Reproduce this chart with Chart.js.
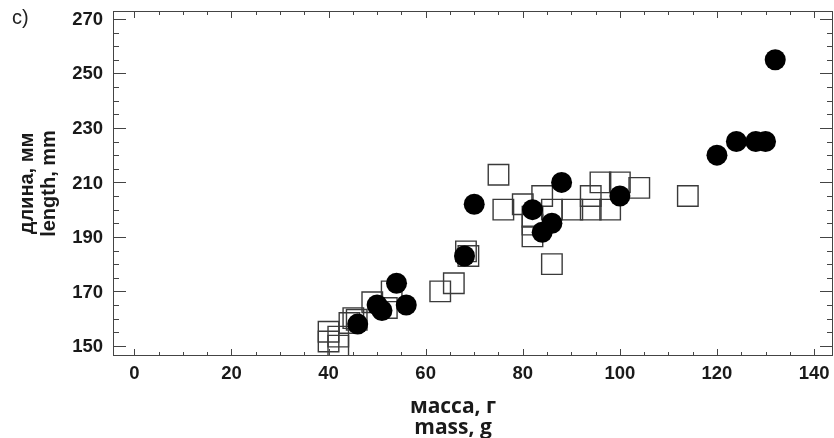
<!DOCTYPE html>
<html>
<head>
<meta charset="utf-8">
<script src="https://cdn.jsdelivr.net/npm/chart.js@4"></script>
<style>
  html, body { margin: 0; padding: 0; background: #fff; }
  #wrap { width: 834px; height: 438px; }
</style>
</head>
<body>
<div id="wrap"><canvas id="chart" width="834" height="438"></canvas></div>
<script>
// filled circles
const circleMass   = [46, 50, 51, 54, 56, 68, 70, 82, 84, 86, 88, 100, 120, 124, 128, 130, 132];
const circleLength = [158, 165, 163, 173, 165, 183, 202, 200, 191.7, 195, 210, 205, 220, 225, 225, 225, 255];

// open squares
const squareMass   = [40, 42, 40, 42, 44.3, 45.1, 45.8, 49, 52, 53, 63, 65.8, 68.3, 68.8,
                      75, 76, 80, 82, 82, 82, 84, 86, 86, 90.2, 94, 94, 96, 98, 100, 104, 114];
const squareLength = [155.2, 153.4, 151.6, 150.1, 158.4, 160.2, 159.6, 166, 163.9, 170, 170, 173, 184.7, 183,
                      212.8, 200, 202, 197.4, 194.5, 190.2, 205, 200, 180, 200, 205, 200, 210, 200, 210, 208, 205];

const xTicks = [0, 20, 40, 60, 80, 100, 120, 140];
const yTicks = [150, 170, 190, 210, 230, 250, 270];

const toPoints = (xs, ys) => xs.map((x, i) => ({ x: x, y: ys[i] }));

// frame, inward ticks on all four sides, tick labels and the free texts
const framePlugin = {
  id: 'frame',
  afterDraw(chart) {
    const ctx = chart.ctx;
    const a = chart.chartArea;
    const xs = chart.scales.x, ys = chart.scales.y;
    ctx.save();
    ctx.strokeStyle = '#444';
    ctx.lineWidth = 1;
    ctx.strokeRect(a.left + 0.5, a.top + 0.5, a.right - a.left - 1, a.bottom - a.top - 1);

    ctx.beginPath();
    for (let v = 0; v <= 140; v += 5) {
      const px = Math.round(xs.getPixelForValue(v)) + 0.5;
      const len = v % 20 === 0 ? 7 : 4;
      ctx.moveTo(px, a.bottom); ctx.lineTo(px, a.bottom - len);
      ctx.moveTo(px, a.top); ctx.lineTo(px, a.top + len);
    }
    for (let v = 150; v <= 270; v += 5) {
      const py = Math.round(ys.getPixelForValue(v)) + 0.5;
      const len = (v - 150) % 20 === 0 ? 13 : 6;
      ctx.moveTo(a.left, py); ctx.lineTo(a.left + len, py);
      ctx.moveTo(a.right, py); ctx.lineTo(a.right - len, py);
    }
    ctx.stroke();

    // tick labels
    ctx.fillStyle = '#1a1a1a';
    ctx.font = 'bold 18.5px "Liberation Sans"';
    ctx.textBaseline = 'middle';
    ctx.textAlign = 'right';
    yTicks.forEach(v => ctx.fillText(String(v), 103, ys.getPixelForValue(v) + 1));
    ctx.textAlign = 'center';
    xTicks.forEach(v => ctx.fillText(String(v), xs.getPixelForValue(v), 374));

    ctx.fillStyle = '#222';
    ctx.font = '20px "Liberation Sans"';
    ctx.textAlign = 'left';
    ctx.fillText('c)', 12, 18);

    ctx.fillStyle = '#1a1a1a';
    ctx.font = 'bold 20px "Liberation Sans"';
    ctx.textAlign = 'center';
    const cy = (a.top + a.bottom) / 2;
    ctx.save();
    ctx.translate(27, cy); ctx.rotate(-Math.PI / 2);
    ctx.fillText('длина, мм', 0, 0);
    ctx.restore();
    ctx.save();
    ctx.translate(49, cy); ctx.rotate(-Math.PI / 2);
    ctx.fillText('length, mm', 0, 0);
    ctx.restore();

    ctx.font = 'bold 21px "Open Sans"';
    ctx.textBaseline = 'alphabetic';
    ctx.fillText('масса, г', 453, 413);
    ctx.fillText('mass, g', 453, 434);
    ctx.restore();
  }
};

new Chart(document.getElementById('chart'), {
  type: 'scatter',
  data: {
    datasets: [
      {
        label: 'circles',
        data: toPoints(circleMass, circleLength),
        pointStyle: 'circle',
        pointRadius: 10.5,
        pointHoverRadius: 10.5,
        backgroundColor: '#000',
        borderColor: '#000',
        borderWidth: 0
      },
      {
        label: 'squares',
        data: toPoints(squareMass, squareLength),
        pointStyle: 'rect',
        pointRadius: 14.5,
        pointHoverRadius: 14.5,
        backgroundColor: 'rgba(0,0,0,0)',
        borderColor: '#3a3a3a',
        borderWidth: 1.4
      }
    ]
  },
  options: {
    responsive: false,
    animation: false,
    devicePixelRatio: 1,
    layout: { autoPadding: false, padding: { left: 0, right: 1, top: 11, bottom: 0 } },
    plugins: { legend: { display: false }, tooltip: { enabled: false } },
    scales: {
      x: {
        type: 'linear',
        min: -4.4,
        max: 143.9,
        afterBuildTicks: s => { s.ticks = xTicks.map(v => ({ value: v })); },
        afterFit: s => { s.height = 82; },
        grid: { display: false, drawTicks: false },
        border: { display: false },
        ticks: { display: false }
      },
      y: {
        type: 'linear',
        min: 146.3,
        max: 272.9,
        afterBuildTicks: s => { s.ticks = yTicks.map(v => ({ value: v })); },
        afterFit: s => { s.width = 113; },
        grid: { display: false, drawTicks: false },
        border: { display: false },
        ticks: { display: false }
      }
    }
  },
  plugins: [framePlugin]
});
</script>
</body>
</html>
